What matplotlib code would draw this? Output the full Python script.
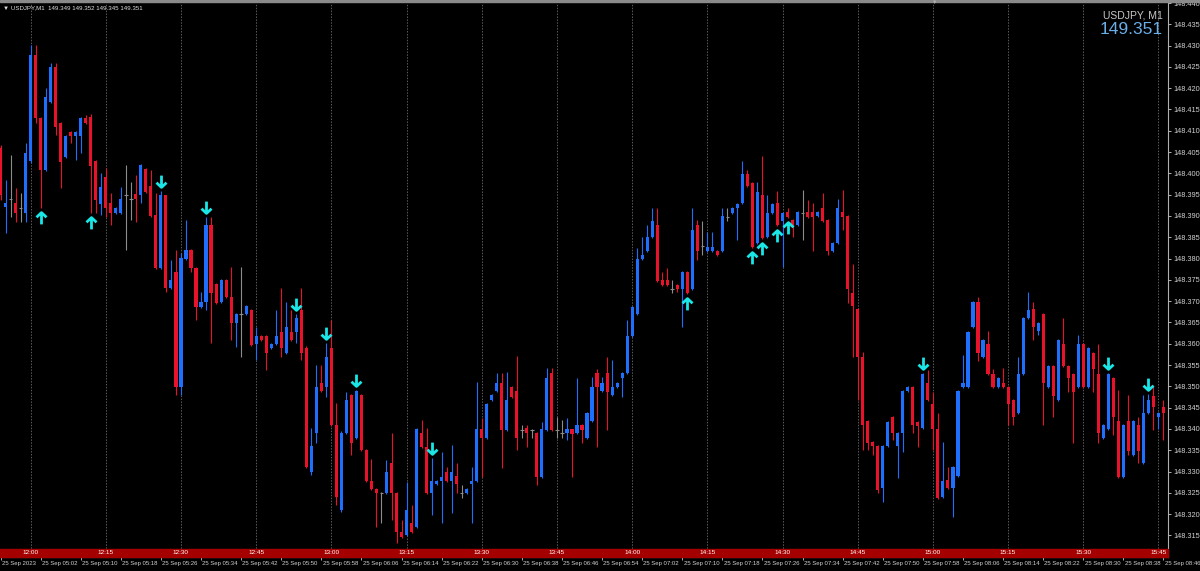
import matplotlib
matplotlib.use("Agg")
import matplotlib.pyplot as plt
from matplotlib.path import Path
from matplotlib.patches import Rectangle
from matplotlib.transforms import offset_copy

# --- data: USDJPY M1 candles (233 bars) ---
opens = [
    148.4060, 148.3921, 148.3940, 148.3931, 148.3919, 148.3907, 148.4029, 148.4278, 148.4130, 148.4008,
    148.4168, 148.4250, 148.4118, 148.4038, 148.4097, 148.4088, 148.4088, 148.4130, 148.4132, 148.4029,
    148.3928, 148.3992, 148.3931, 148.3907, 148.3907, 148.3949, 148.3940, 148.3952, 148.3949, 148.4010,
    148.3970, 148.3902, 148.3778, 148.3949, 148.3731, 148.3769, 148.3499, 148.3799, 148.3820, 148.3778,
    148.3686, 148.3698, 148.3879, 148.3740, 148.3698, 148.3750, 148.3710, 148.3649, 148.3670, 148.3670,
    148.3679, 148.3599, 148.3618, 148.3618, 148.3590, 148.3599, 148.3628, 148.3578, 148.3628, 148.3628,
    148.3679, 148.3590, 148.3299, 148.3391, 148.3508, 148.3499, 148.3590, 148.3409, 148.3210, 148.3391,
    148.3480, 148.3379, 148.3480, 148.3351, 148.3278, 148.3259, 148.3250, 148.3250, 148.3320, 148.3250,
    148.3158, 148.3151, 148.3179, 148.3170, 148.3391, 148.3358, 148.3250, 148.3271, 148.3278, 148.3299,
    148.3278, 148.3289, 148.3250, 148.3250, 148.3271, 148.3278, 148.3399, 148.3379, 148.3468, 148.3489,
    148.3508, 148.3398, 148.3499, 148.3489, 148.3398, 148.3402, 148.3398, 148.3391, 148.3287, 148.3398,
    148.3531, 148.3398, 148.3391, 148.3391, 148.3399, 148.3391, 148.3409, 148.3379, 148.3419, 148.3531,
    148.3489, 148.3531, 148.3480, 148.3499, 148.3520, 148.3531, 148.3618, 148.3670, 148.3799, 148.3818,
    148.3851, 148.3879, 148.3750, 148.3750, 148.3729, 148.3738, 148.3729, 148.3769, 148.3729, 148.3879,
    148.3830, 148.3818, 148.3818, 148.3818, 148.3818, 148.3898, 148.3907, 148.3919, 148.3931, 148.3999,
    148.3977, 148.3837, 148.3949, 148.3851, 148.3907, 148.3931, 148.3888, 148.3909, 148.3891, 148.3879,
    148.3907, 148.3909, 148.3909, 148.3900, 148.3919, 148.3891, 148.3818, 148.3837, 148.3909, 148.3900,
    148.3719, 148.3682, 148.3569, 148.3419, 148.3370, 148.3360, 148.3262, 148.3360, 148.3428, 148.3360,
    148.3391, 148.3489, 148.3499, 148.3416, 148.3402, 148.3508, 148.3459, 148.3399, 148.3240, 148.3280,
    148.3262, 148.3290, 148.3499, 148.3499, 148.3640, 148.3698, 148.3569, 148.3599, 148.3529, 148.3499,
    148.3508, 148.3499, 148.3468, 148.3438, 148.3529, 148.3661, 148.3682, 148.3630, 148.3670, 148.3499,
    148.3548, 148.3468, 148.3599, 148.3548, 148.3529, 148.3499, 148.3599, 148.3499, 148.3578, 148.3529,
    148.3379, 148.3399, 148.3520, 148.3419, 148.3287, 148.3419, 148.3339, 148.3409, 148.3320, 148.3438,
    148.3477, 148.3428, 148.3452,
]
highs = [
    148.4067, 148.3985, 148.4043, 148.3966, 148.3954, 148.4071, 148.4301, 148.4301, 148.4133, 148.4200,
    148.4259, 148.4259, 148.4120, 148.4090, 148.4099, 148.4099, 148.4132, 148.4137, 148.4139, 148.4031,
    148.4001, 148.4013, 148.3954, 148.3921, 148.3968, 148.4020, 148.3980, 148.3996, 148.4022, 148.4013,
    148.4008, 148.3954, 148.3959, 148.3950, 148.3797, 148.3820, 148.3813, 148.3891, 148.3822, 148.3780,
    148.3722, 148.3898, 148.3898, 148.3743, 148.3753, 148.3753, 148.3780, 148.3672, 148.3780, 148.3691,
    148.3682, 148.3639, 148.3621, 148.3621, 148.3602, 148.3679, 148.3731, 148.3698, 148.3679, 148.3670,
    148.3731, 148.3595, 148.3402, 148.3550, 148.3550, 148.3602, 148.3656, 148.3461, 148.3396, 148.3487,
    148.3482, 148.3492, 148.3482, 148.3353, 148.3330, 148.3261, 148.3252, 148.3327, 148.3391, 148.3252,
    148.3186, 148.3276, 148.3222, 148.3402, 148.3421, 148.3402, 148.3332, 148.3280, 148.3346, 148.3311,
    148.3363, 148.3320, 148.3269, 148.3261, 148.3311, 148.3510, 148.3426, 148.3461, 148.3482, 148.3531,
    148.3531, 148.3534, 148.3501, 148.3571, 148.3409, 148.3409, 148.3400, 148.3393, 148.3416, 148.3543,
    148.3543, 148.3428, 148.3421, 148.3426, 148.3401, 148.3520, 148.3411, 148.3440, 148.3522, 148.3541,
    148.3522, 148.3569, 148.3562, 148.3510, 148.3533, 148.3656, 148.3688, 148.3825, 148.3851, 148.3879,
    148.3919, 148.3919, 148.3769, 148.3778, 148.3750, 148.3740, 148.3771, 148.3771, 148.3919, 148.3891,
    148.3888, 148.3863, 148.3863, 148.3820, 148.3919, 148.3919, 148.3921, 148.3930, 148.4029, 148.4008,
    148.3980, 148.3980, 148.4041, 148.3949, 148.3930, 148.3959, 148.3909, 148.3919, 148.3893, 148.3911,
    148.3961, 148.3938, 148.3931, 148.3911, 148.3954, 148.3893, 148.3839, 148.3940, 148.3961, 148.3902,
    148.3787, 148.3684, 148.3581, 148.3421, 148.3372, 148.3362, 148.3362, 148.3418, 148.3430, 148.3393,
    148.3491, 148.3501, 148.3501, 148.3418, 148.3531, 148.3538, 148.3487, 148.3438, 148.3370, 148.3311,
    148.3313, 148.3491, 148.3574, 148.3630, 148.3700, 148.3710, 148.3611, 148.3630, 148.3541, 148.3522,
    148.3543, 148.3501, 148.3470, 148.3569, 148.3663, 148.3722, 148.3698, 148.3651, 148.3672, 148.3550,
    148.3550, 148.3611, 148.3661, 148.3550, 148.3531, 148.3621, 148.3601, 148.3592, 148.3580, 148.3599,
    148.3411, 148.3531, 148.3522, 148.3492, 148.3411, 148.3480, 148.3421, 148.3428, 148.3480, 148.3482,
    148.3503, 148.3440, 148.3468,
]
lows = [
    148.3938, 148.3860, 148.3898, 148.3886, 148.3886, 148.3886, 148.4024, 148.4118, 148.3919, 148.4005,
    148.4165, 148.4090, 148.3966, 148.4035, 148.4071, 148.4031, 148.4048, 148.4115, 148.3907, 148.3907,
    148.3902, 148.3898, 148.3879, 148.3905, 148.3905, 148.3820, 148.3891, 148.3886, 148.3931, 148.3954,
    148.3898, 148.3775, 148.3775, 148.3722, 148.3729, 148.3480, 148.3480, 148.3797, 148.3769, 148.3656,
    148.3684, 148.3679, 148.3602, 148.3693, 148.3695, 148.3708, 148.3609, 148.3592, 148.3569, 148.3668,
    148.3594, 148.3562, 148.3607, 148.3539, 148.3588, 148.3597, 148.3569, 148.3576, 148.3607, 148.3602,
    148.3562, 148.3308, 148.3292, 148.3367, 148.3487, 148.3475, 148.3407, 148.3222, 148.3205, 148.3389,
    148.3339, 148.3377, 148.3348, 148.3276, 148.3257, 148.3170, 148.3179, 148.3248, 148.3186, 148.3132,
    148.3144, 148.3149, 148.3156, 148.3168, 148.3356, 148.3248, 148.3198, 148.3269, 148.3179, 148.3276,
    148.3203, 148.3250, 148.3238, 148.3248, 148.3179, 148.3276, 148.3287, 148.3377, 148.3466, 148.3487,
    148.3308, 148.3396, 148.3473, 148.3351, 148.3379, 148.3358, 148.3379, 148.3269, 148.3285, 148.3396,
    148.3396, 148.3379, 148.3379, 148.3374, 148.3287, 148.3389, 148.3367, 148.3377, 148.3417, 148.3358,
    148.3487, 148.3398, 148.3478, 148.3497, 148.3475, 148.3529, 148.3616, 148.3668, 148.3797, 148.3816,
    148.3849, 148.3745, 148.3736, 148.3736, 148.3719, 148.3722, 148.3640, 148.3717, 148.3727, 148.3797,
    148.3808, 148.3816, 148.3816, 148.3806, 148.3816, 148.3888, 148.3905, 148.3844, 148.3929, 148.3968,
    148.3825, 148.3835, 148.3846, 148.3849, 148.3905, 148.3877, 148.3780, 148.3896, 148.3851, 148.3877,
    148.3844, 148.3896, 148.3818, 148.3898, 148.3886, 148.3808, 148.3816, 148.3835, 148.3867, 148.3696,
    148.3569, 148.3468, 148.3351, 148.3351, 148.3339, 148.3250, 148.3229, 148.3358, 148.3374, 148.3285,
    148.3346, 148.3487, 148.3391, 148.3358, 148.3400, 148.3466, 148.3351, 148.3236, 148.3238, 148.3260,
    148.3194, 148.3288, 148.3497, 148.3497, 148.3638, 148.3560, 148.3567, 148.3527, 148.3497, 148.3497,
    148.3497, 148.3409, 148.3409, 148.3436, 148.3527, 148.3659, 148.3609, 148.3621, 148.3409, 148.3497,
    148.3428, 148.3466, 148.3546, 148.3487, 148.3367, 148.3497, 148.3497, 148.3497, 148.3487, 148.3367,
    148.3377, 148.3397, 148.3386, 148.3285, 148.3285, 148.3339, 148.3337, 148.3320, 148.3318, 148.3436,
    148.3398, 148.3400, 148.3374,
]
closes = [
    148.3949, 148.3931, 148.3940, 148.3907, 148.3919, 148.4048, 148.4278, 148.4130, 148.4008, 148.4179,
    148.4250, 148.4109, 148.4027, 148.4088, 148.4088, 148.4097, 148.4130, 148.4118, 148.4017, 148.3938,
    148.3968, 148.3919, 148.3907, 148.3919, 148.3940, 148.3949, 148.3940, 148.3940, 148.4020, 148.3956,
    148.3900, 148.3778, 148.3949, 148.3731, 148.3750, 148.3499, 148.3801, 148.3820, 148.3778, 148.3686,
    148.3698, 148.3879, 148.3719, 148.3696, 148.3750, 148.3710, 148.3649, 148.3670, 148.3670, 148.3689,
    148.3597, 148.3618, 148.3609, 148.3578, 148.3599, 148.3618, 148.3590, 148.3639, 148.3609, 148.3661,
    148.3578, 148.3311, 148.3360, 148.3499, 148.3489, 148.3569, 148.3409, 148.3240, 148.3391, 148.3468,
    148.3367, 148.3489, 148.3351, 148.3278, 148.3259, 148.3250, 148.3250, 148.3299, 148.3250, 148.3158,
    148.3146, 148.3210, 148.3158, 148.3400, 148.3358, 148.3250, 148.3278, 148.3278, 148.3287, 148.3278,
    148.3299, 148.3271, 148.3250, 148.3259, 148.3278, 148.3399, 148.3379, 148.3458, 148.3480, 148.3508,
    148.3398, 148.3468, 148.3475, 148.3379, 148.3398, 148.3391, 148.3398, 148.3287, 148.3399, 148.3520,
    148.3398, 148.3398, 148.3391, 148.3399, 148.3388, 148.3409, 148.3398, 148.3438, 148.3499, 148.3499,
    148.3508, 148.3487, 148.3499, 148.3508, 148.3531, 148.3618, 148.3686, 148.3799, 148.3808, 148.3851,
    148.3888, 148.3747, 148.3738, 148.3738, 148.3729, 148.3729, 148.3769, 148.3719, 148.3867, 148.3818,
    148.3830, 148.3827, 148.3827, 148.3808, 148.3900, 148.3898, 148.3919, 148.3928, 148.3999, 148.3970,
    148.3827, 148.3956, 148.3848, 148.3907, 148.3928, 148.3879, 148.3907, 148.3898, 148.3879, 148.3909,
    148.3907, 148.3898, 148.3898, 148.3909, 148.3888, 148.3818, 148.3837, 148.3919, 148.3898, 148.3729,
    148.3689, 148.3569, 148.3409, 148.3367, 148.3360, 148.3257, 148.3360, 148.3416, 148.3391, 148.3391,
    148.3489, 148.3499, 148.3409, 148.3407, 148.3529, 148.3468, 148.3399, 148.3238, 148.3278, 148.3262,
    148.3311, 148.3489, 148.3508, 148.3628, 148.3698, 148.3578, 148.3609, 148.3529, 148.3499, 148.3520,
    148.3499, 148.3459, 148.3428, 148.3529, 148.3661, 148.3679, 148.3639, 148.3649, 148.3508, 148.3548,
    148.3477, 148.3609, 148.3548, 148.3520, 148.3487, 148.3599, 148.3499, 148.3590, 148.3541, 148.3391,
    148.3409, 148.3529, 148.3428, 148.3287, 148.3409, 148.3348, 148.3419, 148.3348, 148.3438, 148.3468,
    148.3452, 148.3438, 148.3438,
]

# signal arrows (bar indexes)
up_arrows = [8, 18, 137, 150, 152, 155, 157]
down_arrows = [32, 41, 59, 65, 71, 86, 184, 221, 229]

# axis texts
price_ticks = [148.315, 148.320, 148.325, 148.330, 148.335, 148.340, 148.345, 148.350,
               148.355, 148.360, 148.365, 148.370, 148.375, 148.380, 148.385, 148.390,
               148.395, 148.400, 148.405, 148.410, 148.415, 148.420, 148.425, 148.430,
               148.435, 148.440]
sep_idx = [6, 21, 36, 51, 66, 81, 96, 111, 126, 141, 156, 171, 186, 201, 216, 231]
sep_labels = ["12:00", "12:15", "12:30", "12:45", "13:00", "13:15", "13:30", "13:45",
              "14:00", "14:15", "14:30", "14:45", "15:00", "15:15", "15:30", "15:45"]
time_idx = list(range(0, 233, 8))
time_labels = ["25 Sep 2023", "25 Sep 05:02", "25 Sep 05:10", "25 Sep 05:18", "25 Sep 05:26",
               "25 Sep 05:34", "25 Sep 05:42", "25 Sep 05:50", "25 Sep 05:58", "25 Sep 06:06",
               "25 Sep 06:14", "25 Sep 06:22", "25 Sep 06:30", "25 Sep 06:38", "25 Sep 06:46",
               "25 Sep 06:54", "25 Sep 07:02", "25 Sep 07:10", "25 Sep 07:18", "25 Sep 07:26",
               "25 Sep 07:34", "25 Sep 07:42", "25 Sep 07:50", "25 Sep 07:58", "25 Sep 08:06",
               "25 Sep 08:14", "25 Sep 08:22", "25 Sep 08:30", "25 Sep 08:38", "25 Sep 08:46"]

BULL = "#1f6fff"
BEAR = "#e8132b"
DOJI = "#8c8c8c"
ARROW = "#1ae6e6"
AXIS_TXT = "#d0d0d0"

plt.rcParams["font.family"] = ["Liberation Sans", "DejaVu Sans"]

fig = plt.figure(figsize=(12, 5.71), dpi=100, facecolor="black")
ax = fig.add_axes([0, 14 / 571, 1168 / 1200, 554 / 571], facecolor="black")
ax.set_xlim(-0.1, 232.9)
ax.set_ylim(148.30995, 148.440)

# 15 minute separators
for i in sep_idx:
    ax.axvline(i, color="#5c5c5c", lw=0.7, ls=(0, (1.5, 1.5)), zorder=0)

# candles
xs = list(range(len(opens)))
for i, o, h, l, c in zip(xs, opens, highs, lows, closes):
    if c > o:
        col = BULL
    elif c < o:
        col = BEAR
    else:
        col = DOJI
    ax.vlines(i, l, h, color=col, lw=0.8, zorder=2)
    if c == o:
        ax.hlines(o, i - 0.35, i + 0.35, color=col, lw=0.8, zorder=3)
    else:
        ax.bar(i, abs(c - o), bottom=min(o, c), width=0.62, color=col,
               linewidth=0, zorder=3)

# arrows
up_path = Path([(0, -1), (0, 1), (-0.85, 0.2), (0, 1), (0.85, 0.2)],
               [Path.MOVETO, Path.LINETO, Path.MOVETO, Path.LINETO, Path.LINETO])
down_path = Path([(0, 1), (0, -1), (-0.85, -0.2), (0, -1), (0.85, -0.2)],
                 [Path.MOVETO, Path.LINETO, Path.MOVETO, Path.LINETO, Path.LINETO])
below = offset_copy(ax.transData, fig=fig, y=-10, units="dots")
above = offset_copy(ax.transData, fig=fig, y=10, units="dots")
ax.plot(up_arrows, [lows[i] for i in up_arrows], ls="none", marker=up_path,
        ms=8.5, mew=2.0, mec=ARROW, mfc="none", transform=below, zorder=5)
ax.plot(down_arrows, [highs[i] for i in down_arrows], ls="none", marker=down_path,
        ms=8.5, mew=2.0, mec=ARROW, mfc="none", transform=above, zorder=5)

# right price axis
ax.yaxis.tick_right()
ax.set_yticks(price_ticks)
ax.set_yticklabels([f"{p:.3f}" for p in price_ticks])
ax.tick_params(axis="y", colors=AXIS_TXT, labelsize=5.3, length=2.5, width=0.6, pad=1.2)
ax.set_xticks(time_idx)
ax.set_xticklabels([])
ax.tick_params(axis="x", colors=AXIS_TXT, length=2.5, width=0.6)
for s in ["left", "top"]:
    ax.spines[s].set_visible(False)
for s in ["right", "bottom"]:
    ax.spines[s].set_color("#b0b0b0")
    ax.spines[s].set_linewidth(0.8)

# period separator band at the bottom
ax.add_patch(Rectangle((0, 0), 1, 8 / 554, transform=ax.transAxes,
                       color="#a50000", zorder=6, clip_on=False))
for i, lab in zip(sep_idx, sep_labels):
    ax.text(i, 4 / 554, lab, transform=ax.get_xaxis_transform(), ha="center",
            va="center", fontsize=4.6, color="white", zorder=7)

# time labels below the chart
for i, lab in zip(time_idx, time_labels):
    ax.text(i + 0.25, -6.5 / 554, lab, transform=ax.get_xaxis_transform(), ha="left",
            va="center", fontsize=4.3, color=AXIS_TXT, clip_on=False)

# top border and headers
fig.patches.append(Rectangle((0, 1 - 2 / 571), 1, 2 / 571, transform=fig.transFigure,
                             color="#8a8a8a"))
fig.text(935 / 1200, 1 - 2 / 571, "\u25bc", fontsize=4, color="#b0b0b0",
         ha="center", va="center")
fig.text(3 / 1200, 1 - 8 / 571, "\u25bc USDJPY,M1  149.349 149.352 149.345 149.351",
         fontsize=4.4, color="#e0e0e0", ha="left", va="center")
fig.text(1163 / 1200, 1 - 15 / 571, "USDJPY, M1", fontsize=7.5, color="#c8c8c8",
         ha="right", va="center")
fig.text(1163 / 1200, 1 - 29 / 571, "149.351", fontsize=12.5, color="#6aaeea",
         ha="right", va="center")

fig.savefig("out.png", dpi=100, facecolor="black")
